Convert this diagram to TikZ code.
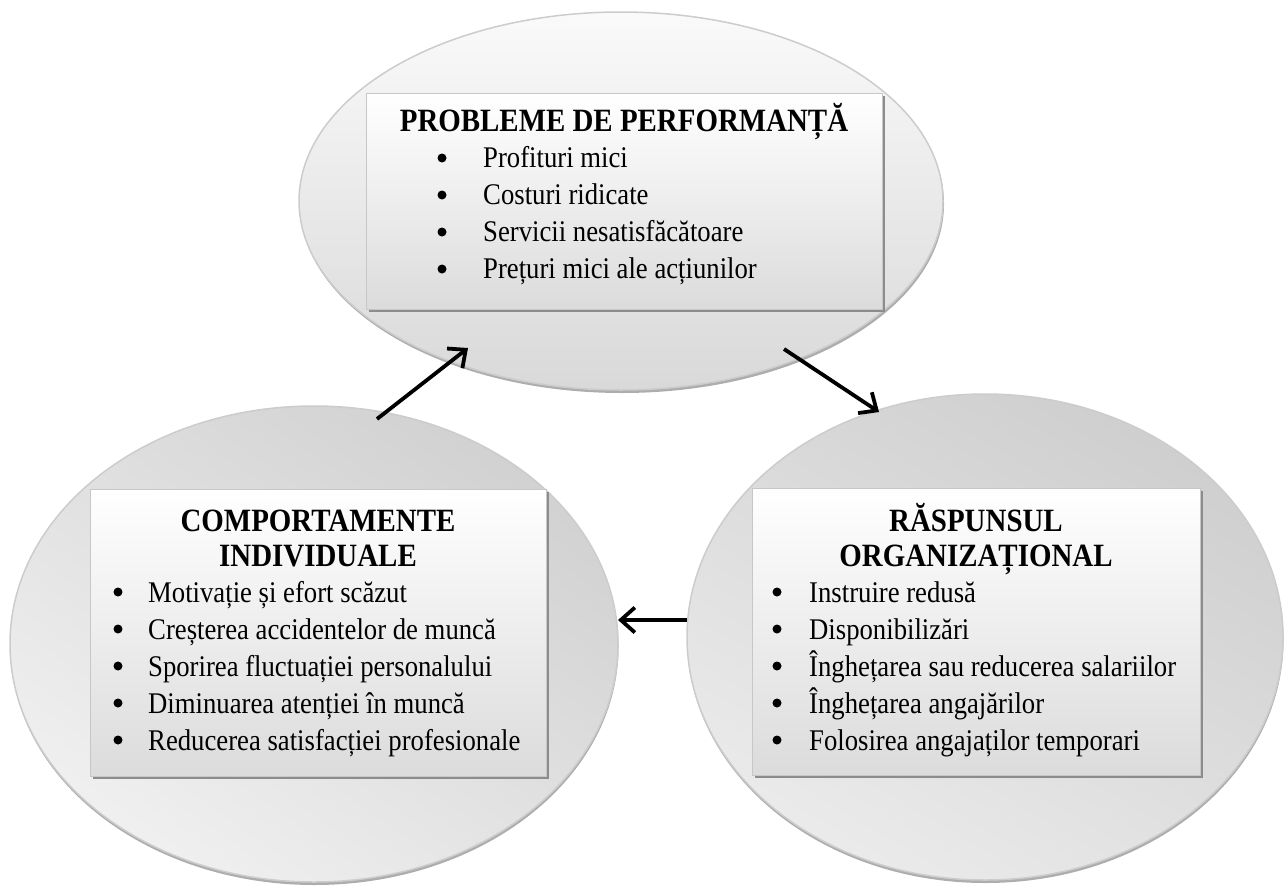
\documentclass[tikz,border=0pt]{standalone}
\usepackage{fontspec}
\setmainfont{Liberation Serif}[FakeStretch=0.89]
\usetikzlibrary{shapes.geometric,arrows.meta}
\begin{document}
\begin{tikzpicture}[x=1pt,y=-1pt,
  ell/.style={ellipse, draw=black!20, line width=1.5pt, inner sep=0pt},
  ellshadow/.style={ellipse, fill=black!32, inner sep=0pt},
  tbox/.style={rectangle, draw=black!22, line width=1pt, top color=white, bottom color=black!14, inner sep=0pt},
  boxshadow/.style={rectangle, fill=black!45, inner sep=0pt},
  item/.style={anchor=base west, inner sep=0pt, font=\fontsize{30}{34}\selectfont},
  ttl/.style={anchor=base, inner sep=0pt, font=\fontsize{32.5}{38}\selectfont\bfseries},
  bul/.style={circle, fill=black, inner sep=0pt, minimum size=9pt},
  arr/.style={line width=3.8pt, -{Straight Barb[length=14pt,width=25pt]}}
]
\useasboundingbox (0,0) rectangle (1285,886);
% ellipse shadows
\node[ellshadow, minimum width=644pt, minimum height=378pt] (Ts) at (622,204) {};
\node[ellshadow, minimum width=608pt, minimum height=476pt] (Ls) at (314.5,647) {};
\node[ellshadow, minimum width=596pt, minimum height=486pt] (Rs) at (985.5,640) {};
% ellipses
\node[ell, minimum width=644pt, minimum height=378pt, top color=black!2, bottom color=black!15] (T) at (621,201) {};
\node[ell, minimum width=608pt, minimum height=476pt, top color=black!18, bottom color=black!6, shading angle=-35] (L) at (314,644) {};
\node[ell, minimum width=596pt, minimum height=486pt, top color=black!19, bottom color=black!8, shading angle=-30] (R) at (985,637) {};
% box shadows
\node[boxshadow, minimum width=516pt, minimum height=216pt] (TBs) at (626.5,204) {};
\node[boxshadow, minimum width=456pt, minimum height=287pt] (LBs) at (320.5,635.5) {};
\node[boxshadow, minimum width=448pt, minimum height=287pt] (RBs) at (978.5,634.5) {};
% boxes
\node[tbox, minimum width=516pt, minimum height=216pt] (TB) at (624.5,201) {};
\node[tbox, minimum width=456pt, minimum height=287pt] (LB) at (318,632.5) {};
\node[tbox, minimum width=448pt, minimum height=287pt] (RB) at (976,631.5) {};
% top texts
\node[ttl] (t0) at (624,131) {PROBLEME DE PERFORMANȚĂ};
\node[bul] (tb1) at (442,158) {};
\node[bul] (tb2) at (442,195) {};
\node[bul] (tb3) at (442,232) {};
\node[bul] (tb4) at (442,269) {};
\node[item] (t1) at (483,167) {Profituri mici};
\node[item] (t2) at (483,204) {Costuri ridicate};
\node[item] (t3) at (483,241) {Servicii nesatisfăcătoare};
\node[item] (t4) at (483,278) {Prețuri mici ale acțiunilor};
% left texts
\node[ttl] (l0a) at (318,531) {COMPORTAMENTE};
\node[ttl] (l0b) at (318,566) {INDIVIDUALE};
\node[bul] (lb1) at (118,592) {};
\node[bul] (lb2) at (118,629) {};
\node[bul] (lb3) at (118,666) {};
\node[bul] (lb4) at (118,703) {};
\node[bul] (lb5) at (118,740) {};
\node[item] (l1) at (148,602) {Motivație și efort scăzut};
\node[item] (l2) at (148,639) {Creșterea accidentelor de muncă};
\node[item] (l3) at (148,676) {Sporirea fluctuației personalului};
\node[item] (l4) at (148,713) {Diminuarea atenției în muncă};
\node[item] (l5) at (148,750) {Reducerea satisfacției profesionale};
% right texts
\node[ttl] (r0a) at (976,531) {RĂSPUNSUL};
\node[ttl] (r0b) at (976,566) {ORGANIZAȚIONAL};
\node[bul] (rb1) at (777,592) {};
\node[bul] (rb2) at (777,629) {};
\node[bul] (rb3) at (777,666) {};
\node[bul] (rb4) at (777,703) {};
\node[bul] (rb5) at (777,740) {};
\node[item] (r1) at (809,602) {Instruire redusă};
\node[item] (r2) at (809,639) {Disponibilizări};
\node[item] (r3) at (809,676) {Înghețarea sau reducerea salariilor};
\node[item] (r4) at (809,713) {Înghețarea angajărilor};
\node[item] (r5) at (809,750) {Folosirea angajaților temporari};
% arrows
\coordinate (a1s) at (377,419);
\coordinate (a1e) at (468,348);
\coordinate (a2s) at (784,349);
\coordinate (a2e) at (879,412);
\coordinate (a3s) at (687,620);
\coordinate (a3e) at (618,620);
\draw[arr] (a1s) -- (a1e);
\draw[arr] (a2s) -- (a2e);
\draw[arr] (a3s) -- (a3e);
\end{tikzpicture}
\end{document}
